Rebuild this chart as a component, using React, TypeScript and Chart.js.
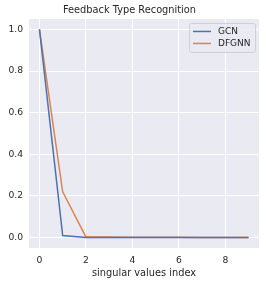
import React, { useEffect, useRef } from "react";
import { Chart, registerables } from "chart.js";

Chart.register(...registerables);

const indices = [0, 1, 2, 3, 4, 5, 6, 7, 8, 9];
const gcnValues = [1.0, 0.01, 0.001, 0.0008, 0.0006, 0.0005, 0.0004, 0.0003, 0.0002, 0.0001];
const dfgnnValues = [1.0, 0.22, 0.003, 0.0025, 0.002, 0.0015, 0.0012, 0.001, 0.0008, 0.0006];
const xTicks = [0, 2, 4, 6, 8];
const yTicks = [0, 0.2, 0.4, 0.6, 0.8, 1.0];
const seriesNames = ["GCN", "DFGNN"];
const seriesColors = ["#4C72B0", "#DD8452"];

const FONT = "'DejaVu Sans', sans-serif";
const TEXT = "#262626";

const bgPlugin = {
  id: "bg",
  beforeDraw(chart: any) {
    const { ctx, chartArea } = chart;
    ctx.save();
    ctx.fillStyle = "#EAEAF2";
    ctx.fillRect(chartArea.left, chartArea.top, chartArea.right - chartArea.left, chartArea.bottom - chartArea.top);
    ctx.restore();
  },
};

const legendPlugin = {
  id: "innerLegend",
  afterDraw(chart: any) {
    const { ctx, chartArea } = chart;
    const w = 66;
    const h = 29;
    const x = chartArea.right - 4 - w;
    const y = chartArea.top + 4;
    ctx.save();
    ctx.fillStyle = "rgba(234,234,242,0.8)";
    ctx.strokeStyle = "#D0D0D8";
    ctx.lineWidth = 1;
    ctx.beginPath();
    if (ctx.roundRect) ctx.roundRect(x + 0.5, y + 0.5, w, h, 2);
    else ctx.rect(x + 0.5, y + 0.5, w, h);
    ctx.fill();
    ctx.stroke();
    ctx.font = `9px ${FONT}`;
    ctx.textBaseline = "middle";
    ctx.fillStyle = TEXT;
    seriesNames.forEach((name, i) => {
      const ly = y + 8.5 + i * 12;
      ctx.strokeStyle = seriesColors[i];
      ctx.lineWidth = 1.5;
      ctx.beginPath();
      ctx.moveTo(x + 4, ly);
      ctx.lineTo(x + 22, ly);
      ctx.stroke();
      ctx.fillText(name, x + 29, ly);
    });
    ctx.restore();
  },
};

export default function App() {
  const ref = useRef<HTMLCanvasElement>(null);
  useEffect(() => {
    document.body.style.margin = "0";
    const chart = new Chart(ref.current!, {
      type: "line",
      data: {
        datasets: [
          {
            label: seriesNames[0],
            data: indices.map((x, i) => ({ x, y: gcnValues[i] })),
            borderColor: seriesColors[0],
            borderWidth: 1.5,
            pointRadius: 0,
            tension: 0,
          },
          {
            label: seriesNames[1],
            data: indices.map((x, i) => ({ x, y: dfgnnValues[i] })),
            borderColor: seriesColors[1],
            borderWidth: 1.5,
            pointRadius: 0,
            tension: 0,
          },
        ],
      },
      options: {
        animation: false,
        responsive: false,
        layout: { padding: { right: 7, left: 0, top: 0, bottom: 0 } },
        plugins: {
          legend: { display: false },
          tooltip: { enabled: false },
          title: {
            display: true,
            text: "Feedback Type Recognition",
            color: TEXT,
            font: { family: FONT, size: 9.8, weight: "normal" },
            padding: { top: 4.5, bottom: 2.7 },
          },
        },
        scales: {
          x: {
            type: "linear",
            min: -0.45,
            max: 9.45,
            afterBuildTicks: (s: any) => {
              s.ticks = xTicks.map((v) => ({ value: v }));
            },
            afterFit: (s: any) => {
              s.height = 37;
            },
            grid: { color: "#FFFFFF", lineWidth: 1, drawTicks: false },
            border: { display: false },
            ticks: {
              color: TEXT,
              font: { family: FONT, size: 9.2 },
              padding: 7,
              maxRotation: 0,
              callback: (v: any) => String(v),
            },
            title: {
              display: true,
              text: "singular values index",
              color: TEXT,
              font: { family: FONT, size: 9.8 },
              padding: { top: 2, bottom: 6 },
            },
          },
          y: {
            type: "linear",
            min: -0.05,
            max: 1.05,
            afterBuildTicks: (s: any) => {
              s.ticks = yTicks.map((v) => ({ value: v }));
            },
            afterFit: (s: any) => {
              s.width = 29;
            },
            grid: { color: "#FFFFFF", lineWidth: 1, drawTicks: false },
            border: { display: false },
            ticks: {
              color: TEXT,
              font: { family: FONT, size: 9.2 },
              padding: 6,
              callback: (v: any) => Number(v).toFixed(1),
            },
          },
        },
      },
      plugins: [bgPlugin, legendPlugin],
    });
    return () => chart.destroy();
  }, []);
  return (
    <div style={{ position: "absolute", left: 0, top: 0, width: 266, height: 285 }}>
      <canvas ref={ref} width={266} height={285} style={{ width: 266, height: 285, display: "block" }} />
    </div>
  );
}
